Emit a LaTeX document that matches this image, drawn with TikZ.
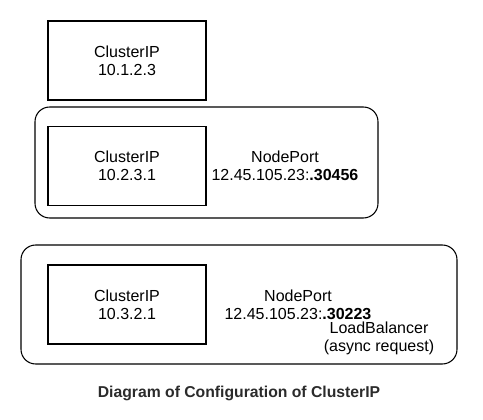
\documentclass[tikz,border=0pt]{standalone}
\usepackage{fontspec}
\setmainfont{Liberation Sans}
\usetikzlibrary{positioning}

\definecolor{captiongray}{HTML}{2B2B2B}

\tikzset{
    ipbox/.style={draw, thick, minimum width=118.5pt, minimum height=59.25pt, align=center},
    portgroup/.style={draw, thick, rounded corners=11pt},
    porttext/.style={align=center, inner sep=0}
}

\begin{document}
\begin{tikzpicture}[x=0.75pt, y=-0.75pt, font=\fontsize{12}{13.5}\selectfont]
        \useasboundingbox (0,0) rectangle (483,420);
        \node[ipbox] (clusterip) at (127,60.5) {ClusterIP\\10.1.2.3};

        \node[portgroup, minimum width=257.25pt, minimum height=83.25pt] (nodeportgroup) at (206.5,162.5) {};
        \node[ipbox] (nodeportcip) at (127,166) {ClusterIP\\10.2.3.1};
        \node[porttext] (nodeport) at (285,166) {NodePort\\12.45.105.23:\textbf{.30456}};

        \node[portgroup, minimum width=327pt, minimum height=89.25pt] (lbgroup) at (239,304.5) {};
        \node[ipbox] (lbcip) at (127,304.5) {ClusterIP\\10.3.2.1};
        \node[porttext] (lbnodeport) at (298,305) {NodePort\\12.45.105.23:\textbf{.30223}};
        \node[porttext] (loadbalancer) at (379,338) {LoadBalancer\\(async request)};

        \node[font=\bfseries\fontsize{11.8}{14}\selectfont, text=captiongray] (caption) at (239,393) {Diagram of Configuration of ClusterIP};
\end{tikzpicture}
\end{document}
